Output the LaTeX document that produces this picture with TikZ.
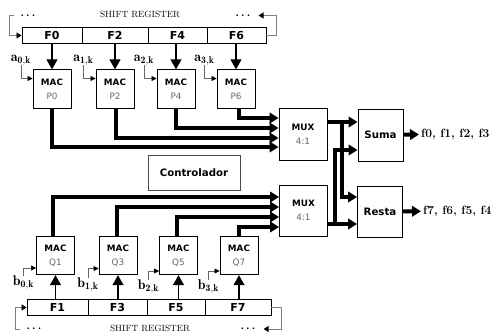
\documentclass[tikz,border=0pt]{standalone}
\usepackage{amsmath,fontspec}
\newfontfamily\dvsans{DejaVu Sans}
\usetikzlibrary{positioning,arrows.meta}

\newcommand{\unitname}[1]{\textcolor{black!60}{\mdseries #1}}

\tikzset{
	cell/.style={draw,line width=.9pt,minimum height=15.5pt,inner sep=0pt,font=\dvsans\bfseries\fontsize{11}{13}\selectfont},
	block/.style={draw,line width=.9pt,minimum width=38pt,minimum height=38.5pt,inner sep=0pt,align=center,font=\dvsans\bfseries\fontsize{8.8}{14}\selectfont},
	bigblock/.style={block,minimum width=45pt,font=\dvsans\bfseries\fontsize{10.2}{12}\selectfont},
	idx/.style={inner sep=0pt,font=\fontsize{14}{16}\selectfont},
	dotted run/.style={inner sep=6pt,font=\fontsize{11}{13}\selectfont},
	title/.style={inner sep=0pt,font=\fontsize{9}{11}\selectfont},
	result/.style={inner sep=0pt,anchor=west,font=\bfseries\fontsize{12}{14}\selectfont},
	feed/.style={line width=1.2pt,-{Triangle[width=11pt,length=10pt]}},
	bus/.style={line width=4pt,-{Triangle[width=10.5pt,length=9pt]}},
	tap/.style={black!60,line width=.7pt,-{Triangle[width=5pt,length=5pt,color=black]}},
	wrap/.style={black!50,line width=.8pt,-{Triangle[width=6pt,length=5pt,color=black]}}
}

\begin{document}
\begin{tikzpicture}
[x=1pt,y=-1pt,on grid]
\useasboundingbox (0,0) rectangle (491,334);

% upper register
\node[cell, minimum width=60pt] (f0) at (52,35.5) {F0};
\node[cell, minimum width=66pt, right=63pt of f0] (f2) {F2};
\node[cell, minimum width=59pt, right=62.5pt of f2] (f4) {F4};
\node[cell, minimum width=59pt, right=59pt of f4] (f6) {F6};
\node[title] (srtop) at (140,14) {SHIFT REGISTER};
\node[dotted run] (dotsa) at (29,15.5) {$\boldsymbol{\cdots}$};
\node[dotted run] (dotsb) at (244,15.5) {$\boldsymbol{\cdots}$};
\coordinate (wrapa) at (9,15.5);
\coordinate (wrapb) at (276,35.5);

% upper MACs
\node[block, below=53.5pt of f0] (p0) {MAC\\ \unitname{P0}};
\node[block, right=63pt of p0] (p2) {MAC\\ \unitname{P2}};
\node[block, right=61pt of p2] (p4) {MAC\\ \unitname{P4}};
\node[block, right=60pt of p4] (p6) {MAC\\ \unitname{P6}};
\node[idx, above left=29pt and 31pt of p0] (a0) {$\mathbf{a_{0,k}}$};
\node[idx, above left=29pt and 31.5pt of p2] (a1) {$\mathbf{a_{1,k}}$};
\node[idx, above left=29pt and 32pt of p4] (a2) {$\mathbf{a_{2,k}}$};
\node[idx, above left=29pt and 31.5pt of p6] (a3) {$\mathbf{a_{3,k}}$};

% lower MACs
\node[block] (q1) at (55.5,255.5) {MAC\\ \unitname{Q1}};
\node[block, right=62.5pt of q1] (q3) {MAC\\ \unitname{Q3}};
\node[block, right=60.5pt of q3] (q5) {MAC\\ \unitname{Q5}};
\node[block, right=60.5pt of q5] (q7) {MAC\\ \unitname{Q7}};
\node[idx, below left=27.5pt and 32pt of q1] (b0) {$\mathbf{b_{0,k}}$};
\node[idx, below left=29.5pt and 30pt of q3] (b1) {$\mathbf{b_{1,k}}$};
\node[idx, below left=31.5pt and 30pt of q5] (b2) {$\mathbf{b_{2,k}}$};
\node[idx, below left=31.5pt and 30.5pt of q7] (b3) {$\mathbf{b_{3,k}}$};

% lower register
\node[cell, minimum width=61pt] (f1) at (57.5,307.5) {F1};
\node[cell, minimum width=59pt, right=60pt of f1] (f3) {F3};
\node[cell, minimum width=58pt, right=58.5pt of f3] (f5) {F5};
\node[cell, minimum width=66pt, right=62pt of f5] (f7) {F7};
\node[title] (srbot) at (150,328) {SHIFT REGISTER};
\node[dotted run] (dotsc) at (35,329) {$\boldsymbol{\cdots}$};
\node[dotted run] (dotsd) at (249,329) {$\boldsymbol{\cdots}$};
\coordinate (wrapc) at (15,329);
\coordinate (wrapd) at (281,307.5);

% right side
\node[block, minimum width=48pt, minimum height=52pt] (muxa) at (303,134) {MUX\\ \unitname{4:1}};
\node[block, minimum width=48pt, minimum height=51pt] (muxb) at (303.5,210.5) {MUX\\ \unitname{4:1}};
\node[bigblock, minimum height=52pt] (suma) at (380.5,135) {Suma};
\node[bigblock, minimum height=51pt] (resta) at (380,211.5) {Resta};
\node[bigblock, black!70, minimum width=92pt, minimum height=35pt, text=black] (ctrl) at (194,172.5) {Controlador};
\node[result] (fa) at (421,134) {f0, f1, f2, f3};
\node[result] (fb) at (423,211) {f7, f6, f5, f4};
\coordinate (splita) at (342,122);
\coordinate (splitb) at (335,224);

\path[feed]
	(f0) edge (p0)
	(f2) edge (p2)
	(p4 |- f4.south) edge (p4)
	(p6 |- f6.south) edge (p6)
	(q1 |- f1.north) edge (q1)
	(q3 |- f3.north) edge (q3)
	(q5 |- f5.north) edge (q5)
	(q7 |- f7.north) edge (q7);

\draw[wrap] (dotsa.west) -- (wrapa) |- (f0.west);
\draw[wrap] (f6.east) -- (wrapb) |- (dotsb.east);
\draw[wrap] (dotsc.west) -- (wrapc) |- (f1.west);
\draw[wrap] (f7.east) -- (wrapd) |- (dotsd.east);

\draw[tap] (a0.south) |- ([yshift=10.5pt]p0.west);
\draw[tap] (a1.south) |- ([yshift=10.5pt]p2.west);
\draw[tap] (a2.south) |- ([yshift=10.5pt]p4.west);
\draw[tap] (a3.south) |- ([yshift=10.5pt]p6.west);
\draw[tap] (b0.north) |- ([yshift=-12.5pt]q1.west);
\draw[tap] (b1.north) |- ([yshift=-13pt]q3.west);
\draw[tap] (b2.north) |- ([yshift=-15.5pt]q5.west);
\draw[tap] (b3.north) |- ([yshift=-15.5pt]q7.west);

\draw[bus] ([xshift=2.5pt]p6.south) |- ([yshift=16pt]muxa.west);
\draw[bus] (p4.south) |- ([yshift=6pt]muxa.west);
\draw[bus] ([xshift=1pt]p2.south) |- ([yshift=-4pt]muxa.west);
\draw[bus] (p0.south) |- ([yshift=-13pt]muxa.west);
\draw[bus] ([xshift=-2.5pt]q1.north) |- ([yshift=13.5pt]muxb.west);
\draw[bus] ([xshift=-1.5pt]q3.north) |- ([yshift=3.5pt]muxb.west);
\draw[bus] ([xshift=-2pt]q5.north) |- ([yshift=-6.5pt]muxb.west);
\draw[bus] (q7.north) |- ([yshift=-16.5pt]muxb.west);

\draw[bus] ([yshift=12pt]muxa.east) -- ([yshift=13pt]suma.west);
\draw[bus] ([yshift=-13.5pt]muxb.east) -- ([yshift=-12.5pt]resta.west);
\draw[bus] (splita) |- ([yshift=14.5pt]resta.west);
\draw[bus] (splitb) |- ([yshift=-15pt]suma.west);

\path[bus, shorten >=2pt]
	(suma) edge (fa)
	(resta) edge (fb);
\end{tikzpicture}
\end{document}
